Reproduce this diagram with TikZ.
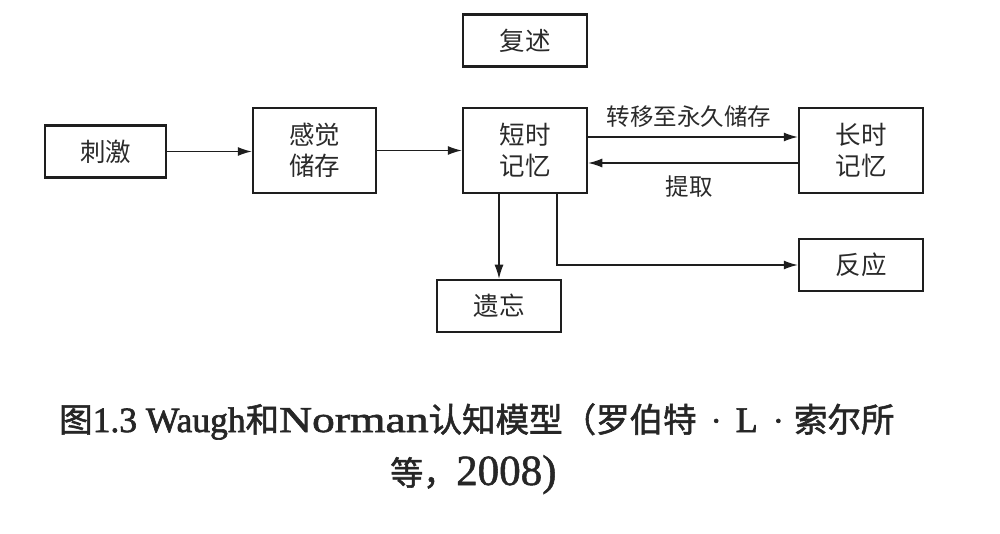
\documentclass[tikz,border=0pt]{standalone}
\usepackage{fontspec}
\usetikzlibrary{arrows.meta,calc}
\newfontfamily\cjk{Noto Sans CJK SC}
\newfontfamily\cjkb{Noto Sans CJK SC}[FakeBold=1.6]
\newfontfamily\lsb{Liberation Serif}[FakeBold=1.8]
\newfontfamily\lsbw{Liberation Serif}[FakeBold=1.8, FakeStretch=1.25]
\newfontfamily\lsm{Liberation Serif}[FakeBold=1.2]
\definecolor{ink}{HTML}{1E1E1E}
\definecolor{txt}{HTML}{2A2A2A}
\definecolor{capink}{HTML}{262626}
\tikzset{
  box/.style={draw=ink, line width=2.5pt, minimum width=124pt, minimum height=85pt,
    inner sep=0pt, align=center, font=\cjk\fontsize{25.5}{31}\selectfont, text=txt},
  lowbox/.style={box, minimum height=52pt},
  arr/.style={draw=ink, line width=1.3pt, -{Latex[length=14pt,width=9pt]}},
  lbl/.style={font=\cjk\fontsize{23.5}{28}\selectfont, text=txt, inner sep=0pt},
  captext/.style={text=capink, inner sep=0pt, anchor=base west}
}
\begin{document}
\begin{tikzpicture}[x=1pt,y=-1pt]
\useasboundingbox (0,0) rectangle (1000,534);
\fill[white] (0,0) rectangle (1000,534);
\node[lowbox, minimum width=121pt] (ciji) at (105.5,151.5) {刺激};
\node[box, minimum width=123pt] (ganjue) at (314.5,150.5) {感觉\\储存};
\node[lowbox] (fushu) at (525,40.5) {复述};
\node[box] (duan) at (525,150.5) {短时\\记忆};
\node[box] (chang) at (861,150.5) {长时\\记忆};
\node[lowbox] (fanying) at (861,265) {反应};
\node[lowbox] (yiwang) at (499,306) {遗忘};
\draw[arr] (ciji.east) -- (ciji.east -| ganjue.west);
\draw[arr] (ganjue.east) -- (duan.west);
\draw[arr] ([yshift=13.5pt]duan.east) -- ([yshift=13.5pt]chang.west);
\draw[arr] ([yshift=-12.5pt]chang.west) -- ([yshift=-12.5pt]duan.east);
\draw[arr] ([xshift=-26pt]duan.south) -- (yiwang.north);
\draw[arr] ([xshift=32pt]duan.south) |- (fanying.west);
\node[lbl] (zhuanyi) at (689,117) {转移至永久储存};
\node[lbl] (tiqu) at (689,187) {提取};
\node[captext] (cap1) at (59,432) {\fontsize{33.5}{40}\selectfont{\cjkb 图}{\lsb\fontsize{35.5}{40}\selectfont 1.3 Waugh}{\cjkb 和}{\lsbw\fontsize{36.5}{40}\selectfont Norman}{\cjkb 认知模型（罗伯特}{\lsb\hspace{14pt}·\hspace{14pt}{\fontsize{36}{40}\selectfont L}\hspace{15pt}·\hspace{10pt}}{\cjkb 索尔所}};
\node[captext] (cap2) at (390,485) {\fontsize{33}{40}\selectfont{\cjkb 等，}{\lsm\fontsize{43}{48}\selectfont 2008)}};
\end{tikzpicture}
\end{document}
